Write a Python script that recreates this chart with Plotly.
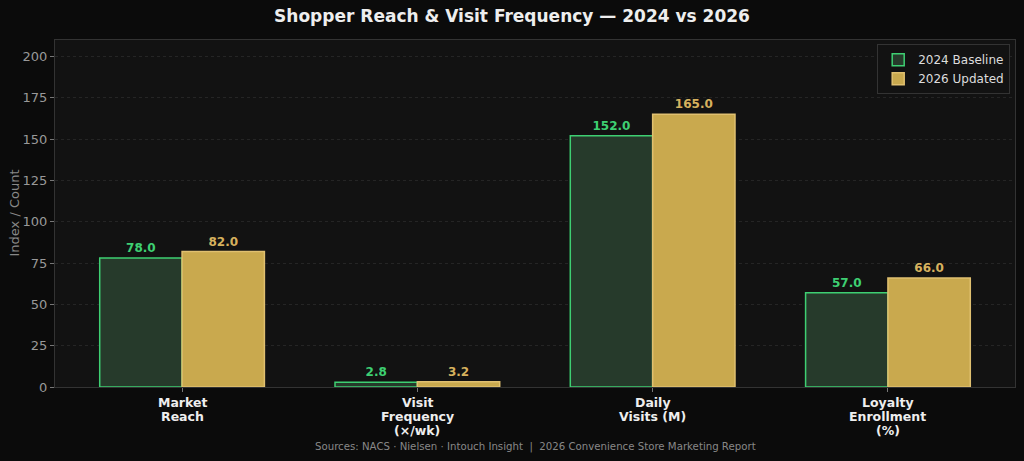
import plotly.graph_objects as go

categories = ["Market Reach", "Visit Frequency (×/wk)", "Daily Visits (M)", "Loyalty Enrollment (%)"]
category_lines = [["Market", "Reach"], ["Visit", "Frequency", "(×/wk)"], ["Daily", "Visits (M)"], ["Loyalty", "Enrollment", "(%)"]]
baseline_2024 = [78.0, 2.8, 152.0, 57.0]
updated_2026 = [82.0, 3.2, 165.0, 66.0]
y_ticks = [0, 25, 50, 75, 100, 125, 150, 175, 200]

GREEN = "#3ecf72"
GREEN_FILL = "#263a2b"
GOLD = "#c9a94e"
GOLD_TEXT = "#d6b15e"

fig = go.Figure()
fig.add_trace(go.Bar(
    x=categories, y=baseline_2024, name="2024 Baseline",
    marker=dict(color=GREEN_FILL, line=dict(color=GREEN, width=1.5)),
    text=[f"{v:.1f}" for v in baseline_2024], textposition="outside",
    textfont=dict(color=GREEN, size=12, family="DejaVu Sans"),
    texttemplate="<b>%{text}</b>", cliponaxis=False,
))
fig.add_trace(go.Bar(
    x=categories, y=updated_2026, name="2026 Updated",
    marker=dict(color=GOLD, line=dict(color="#e0c070", width=1.5)),
    text=[f"{v:.1f}" for v in updated_2026], textposition="outside",
    textfont=dict(color=GOLD_TEXT, size=12, family="DejaVu Sans"),
    texttemplate="<b>%{text}</b>", cliponaxis=False,
))

fig.update_layout(
    width=1024, height=461,
    margin=dict(l=55, r=9, t=40, b=74),
    paper_bgcolor="#0b0b0b", plot_bgcolor="#121212",
    font=dict(family="DejaVu Sans", color="#cccccc"),
    barmode="group", bargap=0.3, bargroupgap=0.0,
    title=dict(text="<b>Shopper Reach & Visit Frequency — 2024 vs 2026</b>",
               x=0.5, xanchor="center", y=0.978, yanchor="top",
               font=dict(size=17, color="#eeeeee")),
    legend=dict(x=0.995, y=0.988, xanchor="right", yanchor="top",
                bgcolor="#121212", bordercolor="#333333", borderwidth=1,
                font=dict(size=12, color="#dddddd"), tracegroupgap=0),
    showlegend=True,
)
fig.update_xaxes(
    range=[-0.54, 3.54], showticklabels=False, automargin=False,
    showgrid=False, showline=True, linecolor="#333333", linewidth=1, mirror=True,
    ticks="outside", ticklen=4, tickcolor="#777777", zeroline=False,
)
fig.update_yaxes(
    range=[0, 210], tickvals=y_ticks, tickfont=dict(size=13, color="#999999"),
    automargin=False,
    showgrid=True, gridcolor="#252525", griddash="dot", gridwidth=1,
    showline=True, linecolor="#333333", linewidth=1, mirror=True,
    ticks="outside", ticklen=4, tickcolor="#777777", zeroline=False,
)
fig.add_annotation(
    text="Index / Count", xref="paper", yref="paper", x=0, y=0.5,
    xanchor="center", yanchor="middle", xshift=-41, textangle=-90,
    showarrow=False, font=dict(size=13, color="#888888"),
)
for cat, lines in zip(categories, category_lines):
    for i, line in enumerate(lines):
        fig.add_annotation(
            text=f"<b>{line}</b>", xref="x", yref="paper", x=cat, y=0,
            xanchor="center", yanchor="middle", yshift=-15 - 14 * i,
            showarrow=False, font=dict(size=12.5, color="#eeeeee"),
        )
fig.add_annotation(
    text="Sources: NACS · Nielsen · Intouch Insight  |  2026 Convenience Store Marketing Report",
    xref="paper", yref="paper", x=0.5, y=0, xanchor="center", yanchor="middle",
    yshift=-60, showarrow=False, font=dict(size=10.2, color="#888888"),
)
fig.write_html("out.html")
